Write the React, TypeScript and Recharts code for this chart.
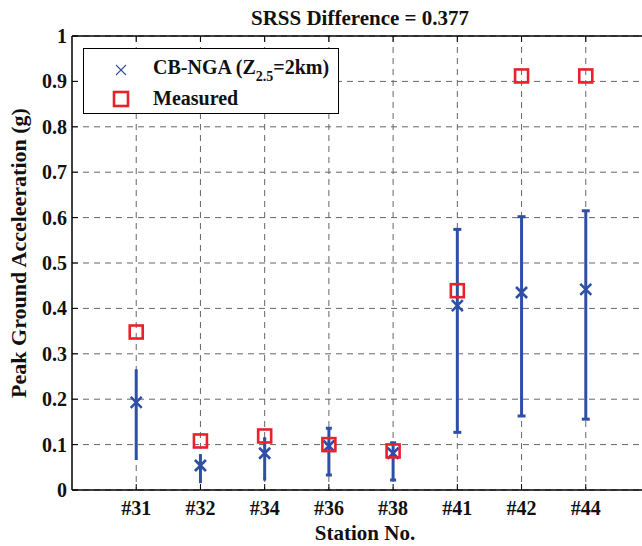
import React from 'react';
import { ScatterChart, Scatter, XAxis, YAxis, CartesianGrid, ErrorBar, Legend, ReferenceLine } from 'recharts';

// Stations along the horizontal axis
const stations = ['#31', '#32', '#34', '#36', '#38', '#41', '#42', '#44'];
// CB-NGA (Z2.5 = 2 km) predicted PGA: median and range bounds (g)
const cbMedian = [0.193, 0.054, 0.081, 0.097, 0.081, 0.406, 0.435, 0.442];
const cbLower = [0.066, 0.015, 0.024, 0.033, 0.022, 0.127, 0.163, 0.156];
const cbUpper = [0.266, 0.079, 0.113, 0.136, 0.104, 0.574, 0.602, 0.615];
// Recorded PGA (g)
const measured = [0.348, 0.108, 0.119, 0.1, 0.086, 0.439, 0.912, 0.912];
// Axis ticks
const yTicks = [0, 0.1, 0.2, 0.3, 0.4, 0.5, 0.6, 0.7, 0.8, 0.9, 1];
const xTicks = stations.map((_, i) => i + 1);
const xDomain = [0, 9];
const yDomain = [0, 1];

// Error-bar cap half-widths (px) per station
const capHalfWidths = [0, 0, 1.5, 3, 3, 4, 4, 4];
const capGroups = Array.from(new Set(capHalfWidths));
// Length of the inward tick marks on the top frame, in axis units
const topTickLen = 0.013;

const BLUE = '#2f4fa6';
const RED = '#e8212b';
const FONT = '"Liberation Serif", "Times New Roman", Times, serif';

const cbData = stations.map((s, i) => {
  const row: Record<string, unknown> = { x: i + 1, y: cbMedian[i], station: s };
  row[`err${capHalfWidths[i]}`] = [cbMedian[i] - cbLower[i], cbUpper[i] - cbMedian[i]];
  return row;
});
const measuredData = stations.map((s, i) => ({ x: i + 1, y: measured[i], station: s }));

const CrossMark = (props: any) => {
  const { cx, cy } = props;
  if (cx == null || cy == null) return null;
  const r = 5.5;
  return (
    <g stroke={BLUE} strokeWidth={2.6}>
      <line x1={cx - r} y1={cy - r} x2={cx + r} y2={cy + r} />
      <line x1={cx - r} y1={cy + r} x2={cx + r} y2={cy - r} />
    </g>
  );
};

const SquareMark = (props: any) => {
  const { cx, cy } = props;
  if (cx == null || cy == null) return null;
  const h = 6.5;
  return <rect x={cx - h} y={cy - h} width={2 * h} height={2 * h} fill="none" stroke={RED} strokeWidth={2.6} />;
};

const BottomTick = (props: any) => {
  const { x, y, payload } = props;
  return (
    <g>
      <line x1={x} y1={y} x2={x} y2={y - 6} stroke="#000" strokeWidth={1} />
      <text x={x} y={y + 25} textAnchor="middle" fontFamily={FONT} fontWeight="bold" fontSize={20} fill="#111">
        {stations[payload.value - 1]}
      </text>
    </g>
  );
};

const LeftTick = (props: any) => {
  const { x, y, payload } = props;
  return (
    <g>
      <line x1={x} y1={y} x2={x + 6} y2={y} stroke="#000" strokeWidth={1} />
      <text x={x - 5} y={y + 7} textAnchor="end" fontFamily={FONT} fontWeight="bold" fontSize={20} fill="#111">
        {String(payload.value)}
      </text>
    </g>
  );
};

const YLabel = (props: any) => {
  const vb = props.viewBox || { x: 0, y: 0, width: 0, height: 0 };
  const x = vb.x + 26;
  const y = vb.y + vb.height / 2 - 10;
  return (
    <text
      x={x}
      y={y}
      transform={`rotate(-90, ${x}, ${y})`}
      textAnchor="middle"
      fontFamily={FONT}
      fontWeight="bold"
      fontSize={22}
      fill="#111"
    >
      Peak Ground Acceleeration (g)
    </text>
  );
};

const LegendBox = () => (
  <div
    style={{
      width: 256,
      height: 66,
      boxSizing: 'border-box',
      border: '1px solid #000',
      background: '#fff',
      fontFamily: FONT,
      fontWeight: 'bold',
      fontSize: 20,
      color: '#111',
      position: 'relative',
    }}
  >
    <svg width={40} height={64} style={{ position: 'absolute', left: 18, top: 0 }}>
      <g stroke={BLUE} strokeWidth={1.1}>
        <line x1={14} y1={16} x2={24} y2={26} />
        <line x1={14} y1={26} x2={24} y2={16} />
      </g>
      <rect x={12} y={43} width={14} height={14} fill="none" stroke={RED} strokeWidth={2.6} />
    </svg>
    <div style={{ position: 'absolute', left: 69, top: 7, whiteSpace: 'nowrap', lineHeight: '22px' }}>
      CB-NGA (Z<span style={{ fontSize: 14, position: 'relative', top: 7 }}>2.5</span>=2km)
    </div>
    <div style={{ position: 'absolute', left: 69, top: 38, whiteSpace: 'nowrap', lineHeight: '22px' }}>
      Measured
    </div>
  </div>
);

export default function App() {
  return (
    <div style={{ position: 'absolute', left: 0, top: 0, width: 642, height: 546, overflow: 'hidden', background: '#fff' }}>
      <div
        style={{
          position: 'absolute',
          left: 0,
          width: 720,
          top: 6,
          textAlign: 'center',
          fontFamily: FONT,
          fontWeight: 'bold',
          fontSize: 21,
          color: '#111',
        }}
      >
        SRSS Difference = 0.377
      </div>
      <ScatterChart width={662} height={546} margin={{ top: 36, right: 12, bottom: 0, left: 0 }}>
        <CartesianGrid stroke="#666" strokeDasharray="6 5" strokeWidth={1} syncWithTicks />
        <XAxis
          type="number"
          dataKey="x"
          domain={xDomain}
          ticks={xTicks}
          interval={0}
          allowDataOverflow
          height={56}
          tickLine={false}
          tickSize={0}
          tickMargin={0}
          tick={<BottomTick />}
          axisLine={{ stroke: '#000', strokeWidth: 1.5 }}
          label={{ value: 'Station No.', position: 'insideBottom', offset: 6, dx: 4, fontFamily: FONT, fontWeight: 'bold', fontSize: 21, fill: '#111' }}
        />
        <YAxis
          type="number"
          dataKey="y"
          domain={yDomain}
          ticks={yTicks}
          interval={0}
          allowDataOverflow
          width={72}
          tickLine={false}
          tickSize={0}
          tickMargin={0}
          tick={<LeftTick />}
          axisLine={{ stroke: '#000', strokeWidth: 1.5 }}
          label={<YLabel />}
        />
        {/* top frame with inward tick marks */}
        <ReferenceLine y={yDomain[1]} stroke="#000" strokeWidth={1.5} />
        {xTicks.map((t) => (
          <ReferenceLine
            key={`tt${t}`}
            segment={[
              { x: t, y: yDomain[1] },
              { x: t, y: yDomain[1] - topTickLen },
            ]}
            stroke="#000"
            strokeWidth={1}
          />
        ))}
        <Scatter name="CB-NGA" data={cbData} shape={<CrossMark />} isAnimationActive={false}>
          {capGroups.map((w) => (
            <ErrorBar
              key={w}
              dataKey={`err${w}`}
              direction="y"
              width={w}
              stroke={BLUE}
              strokeWidth={3}
              isAnimationActive={false}
            />
          ))}
        </Scatter>
        <Scatter name="Measured" data={measuredData} shape={<SquareMark />} isAnimationActive={false} />
        <Legend
          layout="vertical"
          align="center"
          verticalAlign="middle"
          content={<LegendBox />}
          wrapperStyle={{ left: 83, top: 48, width: 256, height: 66 }}
        />
      </ScatterChart>
    </div>
  );
}
